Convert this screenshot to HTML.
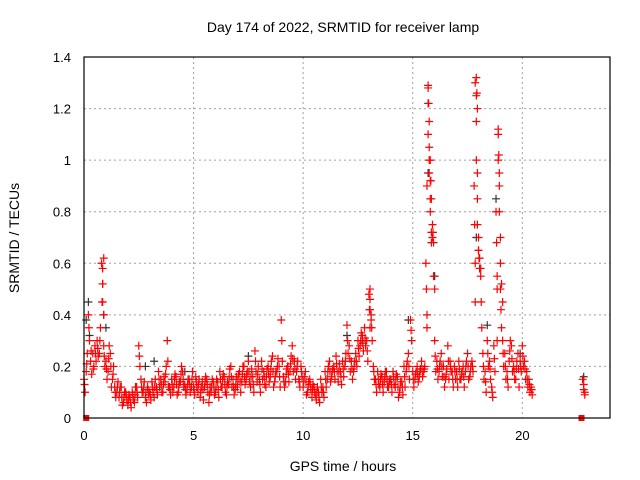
<!DOCTYPE html>
<html><head><meta charset="utf-8"><style>
body{margin:0;background:#fff}
svg{display:block;font-family:"Liberation Sans",sans-serif}
</style></head><body>
<svg id="chart" width="640" height="480" viewBox="0 0 640 480">
<text x="343" y="32" font-size="14" text-anchor="middle">Day 174 of 2022, SRMTID for receiver lamp</text>
<g id="grid"></g>
<g id="ticks"></g>
<g id="marks"></g>
<rect x="84" y="57" width="526" height="361" fill="none" stroke="#000" stroke-width="1.2"/>
<text x="343" y="471" font-size="14" text-anchor="middle">GPS time / hours</text>
<text transform="translate(19,238) rotate(-90)" font-size="14" text-anchor="middle">SRMTID / TECUs</text>
</svg>
<script>
const xTicks=[0,5,10,15,20];
const yTicks=[0,0.2,0.4,0.6,0.8,1,1.2,1.4];
const yTickLabels=["0","0.2","0.4","0.6","0.8","1","1.2","1.4"];
const seriesA=[.15,.18,.40,.22,.25,.28,.30,.25,.60,.28,
.22,.18,.25,.15,.12,.10,.08,.12,.06,.10,
.05,.08,.10,.06,.12,.28,.15,.10,.08,.12,
.10,.14,.08,.12,.18,.15,.10,.14,.30,.12,
.15,.12,.16,.10,.14,.18,.13,.11,.15,.12,
.12,.16,.10,.08,.14,.12,.15,.06,.10,.14,
.10,.14,.18,.12,.16,.09,.13,.20,.15,.11,
.12,.18,.14,.20,.15,.22,.12,.16,.26,.14,
.15,.22,.18,.12,.20,.16,.24,.14,.18,.20,
.38,.16,.14,.20,.18,.28,.22,.18,.15,.20,
.12,.18,.10,.15,.08,.12,.07,.10,.15,.12,
.18,.15,.22,.16,.20,.24,.14,.18,.22,.20,
.36,.28,.22,.18,.25,.30,.28,.32,.35,.30,
.48,.40,.20,.15,.18,.12,.16,.14,.18,.12,
.15,.18,.12,.16,.10,.14,.20,.18,.25,.38,
.18,.15,.20,.16,.22,.18,.60,1.28,1.0,.75,
.30,.22,.18,.25,.20,.15,.28,.22,.18,.20,
.18,.22,.15,.20,.18,.25,.16,.22,.90,1.32,
.65,.55,.25,.18,.30,.22,.12,.28,.80,1.10,
.50,.30,.25,.18,.22,.28,.20,.15,.25,.22,
.28,.22,.18,.15,.12];
const seriesB=[.10,.25,.30,.17,.20,.22,.24,.35,.52,.20,
.15,.28,.12,.20,.08,.14,.12,.05,.10,.07,
.09,.04,.07,.12,.08,.20,.10,.14,.06,.09,
.07,.10,.15,.09,.12,.10,.16,.20,.12,.09,
.10,.17,.09,.14,.20,.12,.09,.15,.10,.18,
.09,.12,.15,.12,.07,.16,.10,.12,.15,.09,
.15,.08,.12,.17,.10,.14,.19,.12,.09,.16,
.17,.10,.20,.13,.18,.14,.19,.10,.18,.20,
.10,.15,.13,.19,.14,.22,.12,.18,.23,.12,
.22,.12,.19,.14,.24,.18,.15,.22,.12,.16,
.16,.09,.14,.11,.13,.09,.12,.06,.10,.08,
.12,.20,.14,.19,.15,.18,.21,.13,.16,.25,
.25,.18,.15,.22,.20,.24,.33,.26,.28,.22,
.35,.30,.15,.10,.13,.17,.10,.18,.12,.15,
.10,.13,.17,.08,.14,.09,.12,.22,.15,.30,
.12,.18,.14,.19,.16,.20,.40,1.15,.85,.68,
.18,.15,.22,.16,.12,.19,.15,.18,.12,.15,
.12,.15,.18,.12,.22,.15,.20,.18,.60,1.20,
.58,.35,.15,.10,.20,.15,.08,.18,.55,.95,
.35,.20,.15,.12,.30,.18,.15,.22,.12,.18,
.20,.15,.12,.10,.09];
const seriesC=[.13,.21,.35,.26,.19,.25,.27,.30,.45,.24,
.19,.23,.20,.17,.10,.12,.10,.08,.08,.09,
.07,.06,.09,.09,.10,.24,.12,.12,.10,.11,
.09,.12,.12,.11,.15,.13,.13,.17,.22,.11,
.13,.15,.13,.12,.17,.15,.11,.13,.13,.15,
.11,.14,.13,.10,.11,.14,.13,.09,.12,.12,
.12,.11,.15,.15,.13,.12,.16,.16,.12,.13,
.15,.14,.17,.16,.17,.18,.16,.13,.22,.17,
.13,.19,.16,.16,.17,.19,.18,.16,.20,.16,
.30,.14,.17,.17,.21,.23,.19,.20,.14,.18,
.14,.14,.12,.13,.11,.10,.10,.08,.12,.10,
.15,.18,.18,.18,.18,.21,.18,.16,.19,.22,
.30,.23,.19,.20,.22,.27,.30,.29,.31,.26,
.42,.35,.18,.13,.15,.15,.13,.16,.15,.14,
.13,.16,.15,.12,.12,.12,.16,.20,.20,.34,
.15,.17,.17,.18,.19,.19,.50,1.22,.92,.72,
.24,.19,.20,.20,.16,.17,.22,.20,.15,.18,
.15,.19,.17,.16,.20,.20,.18,.20,.75,1.26,
.62,.45,.20,.14,.25,.19,.10,.23,.68,1.02,
.42,.25,.20,.15,.26,.23,.18,.19,.19,.20,
.24,.19,.15,.13,.11];
const timeStep=0.1;
const extraT=[0.85,0.85,0.85,0.9,0.9,13.05,13.05,13.05,13.1,15.65,15.65,15.7,15.7,15.7,15.75,15.75,15.75,15.8,15.8,15.8,15.85,15.85,15.9,15.95,16.0,17.85,17.85,17.9,17.9,17.9,17.95,17.95,17.95,18.0,18.0,18.05,18.1,18.85,18.85,18.9,18.9,18.95,18.95,19.0,19.0,19.05,19.1,22.75,22.8,22.8,22.85,22.85];
const extraV=[.45,.52,.58,.62,.4,.42,.46,.50,.38,.35,.9,1.29,1.22,1.1,1.05,.95,1.0,.92,.85,.8,.72,.68,.7,.55,.5,.45,1.3,1.25,1.15,1.0,.95,.85,.75,.7,.65,.62,.58,.3,.5,1.12,1.0,.9,.8,.7,.6,.52,.45,.15,.13,.11,.1,.09];
const blackT=[0.1,0.2,0.25,0.9,1.0,2.8,3.2,4.6,7.5,9.3,12.0,12.7,14.8,15.7,16.0,17.9,18.4,18.8,19.9,22.8];
const blackV=[0.38,0.45,0.32,0.40,0.35,0.2,0.22,0.18,0.24,0.2,0.32,0.3,0.38,0.95,0.55,0.7,0.36,0.85,0.25,0.16];
const zeroT=[0.1,22.7];

const X0=84,X1=610,Y0=418,Y1=57;
const xs=t=>X0+t/24*(X1-X0);
const ys=v=>Y0-v/1.4*(Y0-Y1);
const NS="http://www.w3.org/2000/svg";
const grid=document.getElementById('grid'),ticks=document.getElementById('ticks'),marks=document.getElementById('marks');
function mk(tag,attrs,parent){const e=document.createElementNS(NS,tag);for(const k in attrs)e.setAttribute(k,attrs[k]);parent.appendChild(e);return e;}
xTicks.forEach((t,i)=>{
  const x=xs(t);
  if(i>0){const g=mk('line',{x1:x,x2:x,y1:Y1,y2:Y0,stroke:'#a0a0a0','stroke-dasharray':'2,3'},grid);
  
  }
  const l=mk('text',{x:x,y:Y0+22,'font-size':13,'text-anchor':'middle'},ticks);l.textContent=String(t);
  
  
});
yTicks.forEach((v,i)=>{
  const y=ys(v);
  if(i>0&&i<yTicks.length-1){const g=mk('line',{x1:X0,x2:X1,y1:y,y2:y,stroke:'#a0a0a0','stroke-dasharray':'2,3'},grid);
  
  }
  const l=mk('text',{x:X0-13,y:y+5,'font-size':13,'text-anchor':'end'},ticks);l.textContent=yTickLabels[i];
  
  
});
function cross(t,v,col){
  const x=xs(t),y=ys(v);
  const p=mk('path',{d:`M${x-4},${y}h8M${x},${y-4}v8`,stroke:col,'stroke-width':1.2,fill:'none'},marks);
  
  
}
blackT.forEach((t,i)=>cross(t,blackV[i],'#333'));
seriesA.forEach((v,i)=>cross(i*timeStep,v,'#f00'));
seriesB.forEach((v,i)=>cross(i*timeStep+0.05,v,'#f00'));
seriesC.forEach((v,i)=>cross(i*timeStep+0.025,v,'#f00'));
extraT.forEach((t,i)=>cross(t,extraV[i],'#f00'));
zeroT.forEach(t=>{const r=mk('rect',{x:xs(t)-3,y:Y0-3,width:6,height:6,fill:'#f00'},marks);

});
</script>
</body></html>
